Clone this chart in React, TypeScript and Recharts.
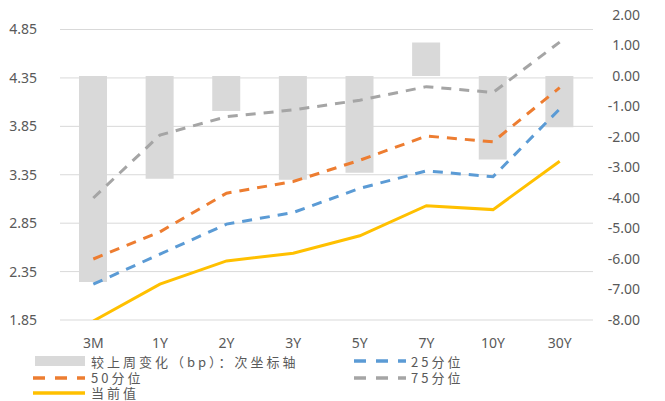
import React from "react";
import { ComposedChart, Bar, Line, XAxis, YAxis, CartesianGrid } from "recharts";

const categories = ["3M", "1Y", "2Y", "3Y", "5Y", "7Y", "10Y", "30Y"];
const weeklyChange = [-6.75, -3.37, -1.15, -3.4, -3.17, 1.1, -2.74, -1.68];
const p25 = [2.22, 2.53, 2.84, 2.96, 3.21, 3.39, 3.33, 4.03];
const p50 = [2.48, 2.76, 3.16, 3.28, 3.5, 3.75, 3.69, 4.25];
const p75 = [3.11, 3.76, 3.95, 4.02, 4.12, 4.26, 4.2, 4.72];
const current = [1.84, 2.22, 2.46, 2.54, 2.72, 3.03, 2.99, 3.49];
const leftTicks = [1.85, 2.35, 2.85, 3.35, 3.85, 4.35, 4.85];
const rightTicks = [-8, -7, -6, -5, -4, -3, -2, -1, 0, 1, 2];

const data = categories.map((c, i) => ({
  name: c,
  change: weeklyChange[i],
  p25: p25[i],
  p50: p50[i],
  p75: p75[i],
  current: current[i],
}));

const tickStyle = { fill: "#595959", fontSize: 14, fontFamily: "Noto Sans" };

const legendText: React.CSSProperties = {
  position: "absolute",
  fontFamily: "Noto Sans CJK SC",
  fontSize: 13,
  letterSpacing: 3,
  color: "#595959",
  lineHeight: "14px",
  whiteSpace: "nowrap",
};

function DashIcon({ color, dashed, x, y }: { color: string; dashed: boolean; x: number; y: number }) {
  return (
    <svg style={{ position: "absolute", left: x, top: y - 3 }} width={54} height={6}>
      <line x1={1} y1={3} x2={53} y2={3} stroke={color} strokeWidth={3.5} strokeDasharray={dashed ? "12 10" : undefined} />
    </svg>
  );
}

export default function App() {
  return (
    <div style={{ position: "absolute", left: 0, top: 0, width: 665, height: 401, background: "#fff" }}>
      <ComposedChart width={665} height={401} data={data} margin={{ top: 15, right: 0, left: 0, bottom: 0 }}>
        <CartesianGrid yAxisId="left" vertical={false} stroke="#d9d9d9" strokeWidth={1} syncWithTicks />
        <XAxis dataKey="name" axisLine={false} tickLine={false} tickSize={0} tickMargin={18} height={81} tick={tickStyle} interval={0} />
        <YAxis
          yAxisId="left"
          domain={[1.85, 5.0]}
          ticks={leftTicks}
          tickFormatter={(v: number) => v.toFixed(2)}
          axisLine={false}
          tickLine={false}
          tickSize={0}
          tickMargin={23}
          width={60}
          tick={tickStyle}
          allowDataOverflow
        />
        <YAxis
          yAxisId="right"
          orientation="right"
          domain={[-8, 2]}
          ticks={rightTicks}
          tickFormatter={(v: number) => v.toFixed(2)}
          axisLine={false}
          tickLine={false}
          tickSize={0}
          tickMargin={47}
          width={72}
          tick={{ ...tickStyle, textAnchor: "end" }}
        />
        <Bar yAxisId="right" dataKey="change" fill="#d9d9d9" barSize={28} isAnimationActive={false} />
        <Line yAxisId="left" dataKey="p75" stroke="#A5A5A5" strokeWidth={3} strokeDasharray="10 8" dot={false} type="linear" isAnimationActive={false} />
        <Line yAxisId="left" dataKey="p50" stroke="#ED7D31" strokeWidth={3} strokeDasharray="10 8" dot={false} type="linear" isAnimationActive={false} />
        <Line yAxisId="left" dataKey="p25" stroke="#5B9BD5" strokeWidth={3} strokeDasharray="10 8" dot={false} type="linear" isAnimationActive={false} />
        <Line yAxisId="left" dataKey="current" stroke="#FFC000" strokeWidth={3} dot={false} type="linear" isAnimationActive={false} />
      </ComposedChart>
      <div style={{ position: "absolute", left: 35, top: 356, width: 50, height: 10, background: "#d9d9d9" }} />
      <div style={{ ...legendText, left: 91, top: 355 }}>较上周变化（bp）：次坐标轴</div>
      <DashIcon color="#5B9BD5" dashed x={353} y={361} />
      <div style={{ ...legendText, left: 411, top: 355 }}>25分位</div>
      <DashIcon color="#ED7D31" dashed x={32} y={378} />
      <div style={{ ...legendText, left: 91, top: 371 }}>50分位</div>
      <DashIcon color="#A5A5A5" dashed x={353} y={378} />
      <div style={{ ...legendText, left: 411, top: 371 }}>75分位</div>
      <DashIcon color="#FFC000" dashed={false} x={32} y={393} />
      <div style={{ ...legendText, left: 91, top: 386 }}>当前值</div>
    </div>
  );
}
